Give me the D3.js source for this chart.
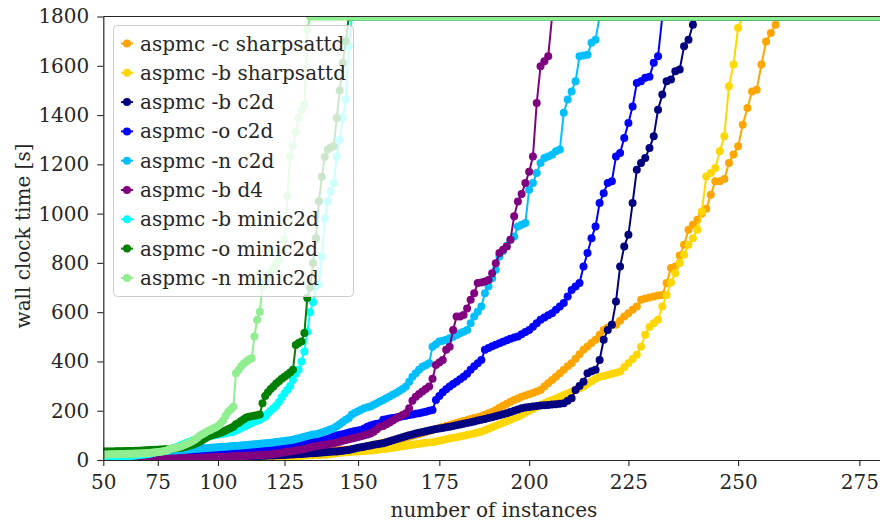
<!DOCTYPE html>
<html>
<head>
<meta charset="utf-8">
<script src="https://cdn.jsdelivr.net/npm/d3@7"></script>
<style>
  body { margin: 0; background: #fff; }
  svg { display: block; font-family: "DejaVu Serif", serif; }
</style>
</head>
<body>
<svg id="chart" width="880" height="523"></svg>
<script>
// cactus plot: sorted wall clock times per solver configuration
// each array holds the time of instance number firstInstance, firstInstance+1, ...
const firstInstance = 50;
const lastInstance = 290;   // remaining instances time out at the limit
const timeLimit = 1800;

const xTickValues = [50, 75, 100, 125, 150, 175, 200, 225, 250, 275];
const yTickValues = [0, 200, 400, 600, 800, 1000, 1200, 1400, 1600, 1800];

const seriesNames = [
    'aspmc -c sharpsattd', 'aspmc -b sharpsattd', 'aspmc -b c2d', 'aspmc -o c2d',
    'aspmc -n c2d', 'aspmc -b d4', 'aspmc -b minic2d', 'aspmc -o minic2d', 'aspmc -n minic2d'
];
const seriesColors = ['#ffa500', '#ffd700', '#000080', '#0000ff', '#00bfff',
    '#800080', '#00ffff', '#008000', '#90ee90'];

const sharpsattdC = [
    1,1,1,1,1,1,1,2,2,2, 2,2,2,2,2,2,2,3,3,3, 3,3,3,3,3,3,4,4,4,4, 4,5,5,5,5,5,6,6,6,6,
    6,7,7,7,7,7,7,8,8,8, 8,9,9,9,10,10,11,11,12,12, 12,13,13,14,14,15,15,16,16,17,
    17,17,18,18,18,19,20,21,22,23, 24,24,25,26,27,27,28,29,30,31, 33,35,37,39,40,41,42,43,44,45,
    48,50,53,56,59,62,64,67,70,72, 75,78,81,84,87,90,94,98,102,106,
    110,114,118,122,126,130,134,138,142,146, 150,154,158,162,166,170,174,178,184,190,
    195,203,212,220,228,236,244,250,257,262, 267,272,278,284,298,312,325,338,352,366,
    380,393,411,429,447,461,475,488,508,528, 538,549,549,565,582,596,610,623,650,655,
    660,664,668,670,718,779,785,830,874,934, 955,975,1000,1020,1077,1131,1131,1140,1205,1240,
    1273,1361,1429,1496,1503,1605,1699,1733,1767,1800
];
const sharpsattdB = [
    0,0,0,0,0,1,1,1,1,1, 1,1,1,1,1,1,1,1,2,2, 2,2,2,2,2,2,2,2,2,3, 3,3,3,3,3,3,3,3,3,3,
    3,3,4,4,4,4,4,4,4,4, 4,5,5,5,5,6,6,6,7,7, 7,8,8,8,9,9,9,10,10,11,
    11,11,11,12,12,12,13,14,15,16, 16,17,18,18,19,19,20,20,21,21, 22,23,25,27,29,30,31,32,33,34,
    35,36,37,38,39,40,42,43,45,46, 48,50,52,54,56,58,60,62,64,66,
    68,70,71,72,75,78,81,84,87,90, 92,95,98,101,105,108,112,115,121,127,
    133,139,145,151,157,163,170,176,184,192, 200,207,215,222,230,237,243,250,257,264,
    270,277,284,291,298,309,320,330,338,341, 345,350,354,359,376,393,410,427,460,508,
    540,555,569,623,670,720,758,800,833,874, 900,934,1009,1151,1165,1185,1253,1314,1517,1605,
    1754,1800
];
const c2dB = [
    1,1,1,2,2,2,2,2,2,2, 2,3,3,3,3,3,3,4,4,4, 4,4,4,5,5,5,5,6,6,6, 6,6,7,7,7,7,8,8,8,8,
    8,9,9,9,9,9,9,10,10,10, 10,10,11,11,11,12,12,12,13,13, 13,14,14,15,15,16,16,17,17,18,
    18,18,19,19,20,20,21,22,22,23, 24,24,25,26,27,27,28,29,30,31, 32,33,34,35,37,38,40,41,44,47,
    50,52,54,57,59,62,64,66,68,72, 76,80,84,88,92,96,100,104,108,111,
    114,117,120,123,126,128,130,133,135,138, 141,144,147,150,153,156,160,163,166,170,
    174,178,182,186,190,195,200,205,210,213, 215,217,219,221,222,223,225,226,228,230,
    240,251,284,300,318,352,360,366,406,488, 528,549,643,785,867,914,1043,1178,1205,1226,
    1266,1314,1422,1483,1537,1544,1578,1585,1679,1706, 1767,1800
];
const c2dO = [
    2,3,3,3,4,4,4,5,5,5, 6,6,6,7,7,7,8,8,8,9, 9,9,10,10,10,10,11,12,13,14, 15,17,19,21,23,24,25,26,27,28,
    30,31,32,33,34,35,36,37,38,39, 40,41,41,42,43,44,44,45,46,46, 47,47,48,48,49,49,50,50,51,51,
    52,52,53,54,55,55,56,57,58,60, 62,64,66,68,70,72,74,76,79,82, 85,90,95,99,102,105,108,112,115,118,
    120,122,128,135,140,144,147,149,163,165, 168,170,172,175,178,180,183,185,188,190,
    193,196,200,203,244,260,275,287,298,308, 318,328,338,350,366,380,393,406,447,455,
    462,468,474,480,486,492,497,501,510,519, 528,541,555,569,578,587,596,610,623,637,
    664,690,704,718,785,840,900,948,1043,1083, 1124,1131,1232,1246,1307,1368,1435,1530,1537,1551,
    1555,1612,1639,1800
];
const c2dN = [
    4,5,6,7,8,9,9,10,11,12, 13,14,15,15,16,17,18,19,20,21, 21,22,23,24,25,25,27,29,31,33,
    35,36,37,38,39,40,41,42,43,44, 45,46,46,47,48,48,49,50,51,51, 52,53,54,54,55,56,57,58,58,59,
    60,61,62,63,64,65,66,67,68,69, 70,71,73,74,76,77,79,80,82,85, 88,91,94,97,100,103,105,108,112,116,
    120,125,129,137,145,154,163,170,185,192, 198,204,210,214,217,224,230,237,244,251,
    258,265,272,280,288,298,318,338,352,366, 378,385,393,460,470,481,484,488,494,500,
    507,514,521,528,555,582,602,623,677,704, 738,772,826,848,870,894,907,948,955,962,
    1097,1124,1165,1205,1226,1232,1239,1253,1260,1409, 1463,1496,1537,1639,1642,1645,1693,1706,1800
];
const d4B = [
    1,1,1,1,1,1,1,1,1,1, 1,1,2,2,2,2,2,2,2,3, 3,3,3,3,3,3,4,4,5,5, 5,6,6,6,7,7,7,7,8,8,
    8,8,9,9,9,10,10,11,11,12, 12,12,13,13,14,14,15,15,16,16, 16,17,17,18,18,19,19,20,21,22,
    22,24,26,27,29,31,33,35,37,39, 41,43,45,48,51,54,56,58,60,62, 64,66,68,71,74,78,81,84,87,90,
    93,96,100,104,108,115,125,135,138,145, 152,160,168,176,183,190,210,240,257,268,
    278,288,298,330,386,396,406,447,460,528, 582,582,589,615,650,677,718,720,724,731,
    758,799,840,853,867,894,989,1049,1080,1124, 1170,1232,1449,1598,1618,1639,1800
];
const minic2dB = [
    8,8,9,9,10,10,11,11,12,12, 13,14,15,16,17,18,19,20,21,22, 23,24,26,28,30,32,34,36,38,40,
    42,45,48,52,56,60,64,68,72,76, 80,82,85,88,90,92,95,97,99,101, 103,105,107,109,111,113,115,120,125,130,
    135,140,145,150,155,159,163,170,176,190, 200,210,220,235,255,270,284,300,325,350,
    366,400,440,521,600,640,704,711,826,980, 1049,1090,1124,1232,1300,1388,1463,1679,1800
];
const minic2dO = [
    35,35,35,35,35,35,36,36,36,36, 36,37,37,37,37,38,38,38,39,39, 40,40,41,41,42,42,43,43,44,44,
    45,46,47,48,49,50,52,54,57,60, 63,67,71,76,82,88,94,98,102,105, 108,111,115,120,125,130,135,145,150,158,
    165,172,176,178,180,182,185,230,260,275, 288,298,310,320,330,338,346,355,366,467,
    475,481,515,657,700,800,900,1050,1150,1230, 1260,1268,1273,1388,1500,1612,1700,1800
];
const minic2dN = [
    22,22,22,23,23,23,23,24,24,24, 24,25,25,25,25,26,26,26,27,27, 28,28,29,30,31,32,33,35,37,39,
    44,46,48,50,53,56,60,64,68,73, 78,84,92,100,106,112,118,122,128,132, 138,148,160,180,195,205,216,352,365,380,
    392,400,408,413,501,569,602,704,720,745, 760,779,800,813,850,894,1070,1232,1273,1330,
    1388,1420,1442,1747,1800
];

const seriesValues = [sharpsattdC, sharpsattdB, c2dB, c2dO, c2dN, d4B, minic2dB, minic2dO, minic2dN];

const svg = d3.select('#chart');
const margin = { left: 103.3, right: 885.1, top: 16.5, bottom: 460 };
const fontSize = '20px';
const axisColor = '#262626';

// x axis grows exponentially: position follows exp(n / 250)
const expOf = n => Math.exp(n / 250);
const xExp = d3.scaleLinear()
    .domain([expOf(50), expOf(280)])
    .range([margin.left, margin.right]);
const x = n => xExp(expOf(n));

const y = d3.scaleLinear()
    .domain([0, timeLimit])
    .range([margin.bottom, margin.top]);

svg.append('defs').append('clipPath')
    .attr('id', 'plot-clip')
    .append('rect')
    .attr('x', margin.left)
    .attr('y', margin.top)
    .attr('width', margin.right - margin.left)
    .attr('height', margin.bottom - margin.top);

const plot = svg.append('g').attr('clip-path', 'url(#plot-clip)');

const line = d3.line()
    .x(d => x(d[0]))
    .y(d => y(d[1]));

seriesValues.forEach((values, i) => {
    const points = values.map((v, k) => [firstInstance + k, v]);
    const solvedUntil = points[points.length - 1][0];
    const g = plot.append('g').attr('class', 'series');

    g.append('path')
        .datum(points)
        .attr('d', line)
        .attr('fill', 'none')
        .attr('stroke', seriesColors[i])
        .attr('stroke-width', 2);

    // the timed out instances sit on the limit, half clipped by the frame
    g.append('path')
        .datum([[solvedUntil, timeLimit], [lastInstance, timeLimit]])
        .attr('d', line)
        .attr('stroke', seriesColors[i])
        .attr('stroke-width', 8);

    g.selectAll('circle')
        .data(points)
        .enter()
        .append('circle')
        .attr('cx', d => x(d[0]))
        .attr('cy', d => y(d[1]))
        .attr('r', 4)
        .attr('fill', seriesColors[i]);
});

// axes
const xAxis = d3.axisBottom(xExp)
    .tickValues(xTickValues.map(expOf))
    .tickFormat(d => Math.round(250 * Math.log(d)))
    .tickSize(6)
    .tickPadding(9)
    .tickSizeOuter(0);

const yAxis = d3.axisLeft(y)
    .tickValues(yTickValues)
    .tickFormat(d3.format('d'))
    .tickSize(6)
    .tickPadding(8)
    .tickSizeOuter(0);

const gx = svg.append('g')
    .attr('transform', `translate(0,${margin.bottom})`)
    .call(xAxis);
const gy = svg.append('g')
    .attr('transform', `translate(${margin.left},0)`)
    .call(yAxis);

[gx, gy].forEach(g => {
    g.select('.domain').attr('stroke', axisColor).attr('stroke-width', 1.2);
    g.selectAll('.tick line').attr('stroke', axisColor).attr('stroke-width', 1.1);
    g.selectAll('.tick text')
        .attr('fill', axisColor)
        .style('font-family', '"DejaVu Serif", serif')
        .style('font-size', fontSize);
});

// top frame line
svg.append('line')
    .attr('x1', margin.left)
    .attr('x2', margin.right)
    .attr('y1', margin.top)
    .attr('y2', margin.top)
    .attr('stroke', axisColor)
    .attr('stroke-width', 1.2);

svg.append('text')
    .attr('x', 494)
    .attr('y', 517)
    .attr('text-anchor', 'middle')
    .attr('fill', axisColor)
    .style('font-size', fontSize)
    .text('number of instances');

svg.append('text')
    .attr('transform', 'translate(30,236) rotate(-90)')
    .attr('text-anchor', 'middle')
    .attr('fill', axisColor)
    .style('font-size', fontSize)
    .text('wall clock time [s]');

// legend
const legend = svg.append('g').attr('class', 'legend');
legend.append('rect')
    .attr('x', 113.5)
    .attr('y', 25.5)
    .attr('width', 240)
    .attr('height', 271)
    .attr('rx', 4)
    .attr('fill', '#fff')
    .attr('fill-opacity', 0.8)
    .attr('stroke', '#cccccc');

const rowY = i => 43.5 + i * 29.3;
seriesNames.forEach((name, i) => {
    const row = legend.append('g');
    row.append('line')
        .attr('x1', 121)
        .attr('x2', 133)
        .attr('y1', rowY(i))
        .attr('y2', rowY(i))
        .attr('stroke', seriesColors[i])
        .attr('stroke-width', 2);
    row.append('circle')
        .attr('cx', 127)
        .attr('cy', rowY(i))
        .attr('r', 4)
        .attr('fill', seriesColors[i]);
    row.append('text')
        .attr('x', 140)
        .attr('y', rowY(i))
        .attr('dy', '0.35em')
        .attr('fill', axisColor)
        .style('font-size', fontSize)
        .text(name);
});
</script>
</body>
</html>
